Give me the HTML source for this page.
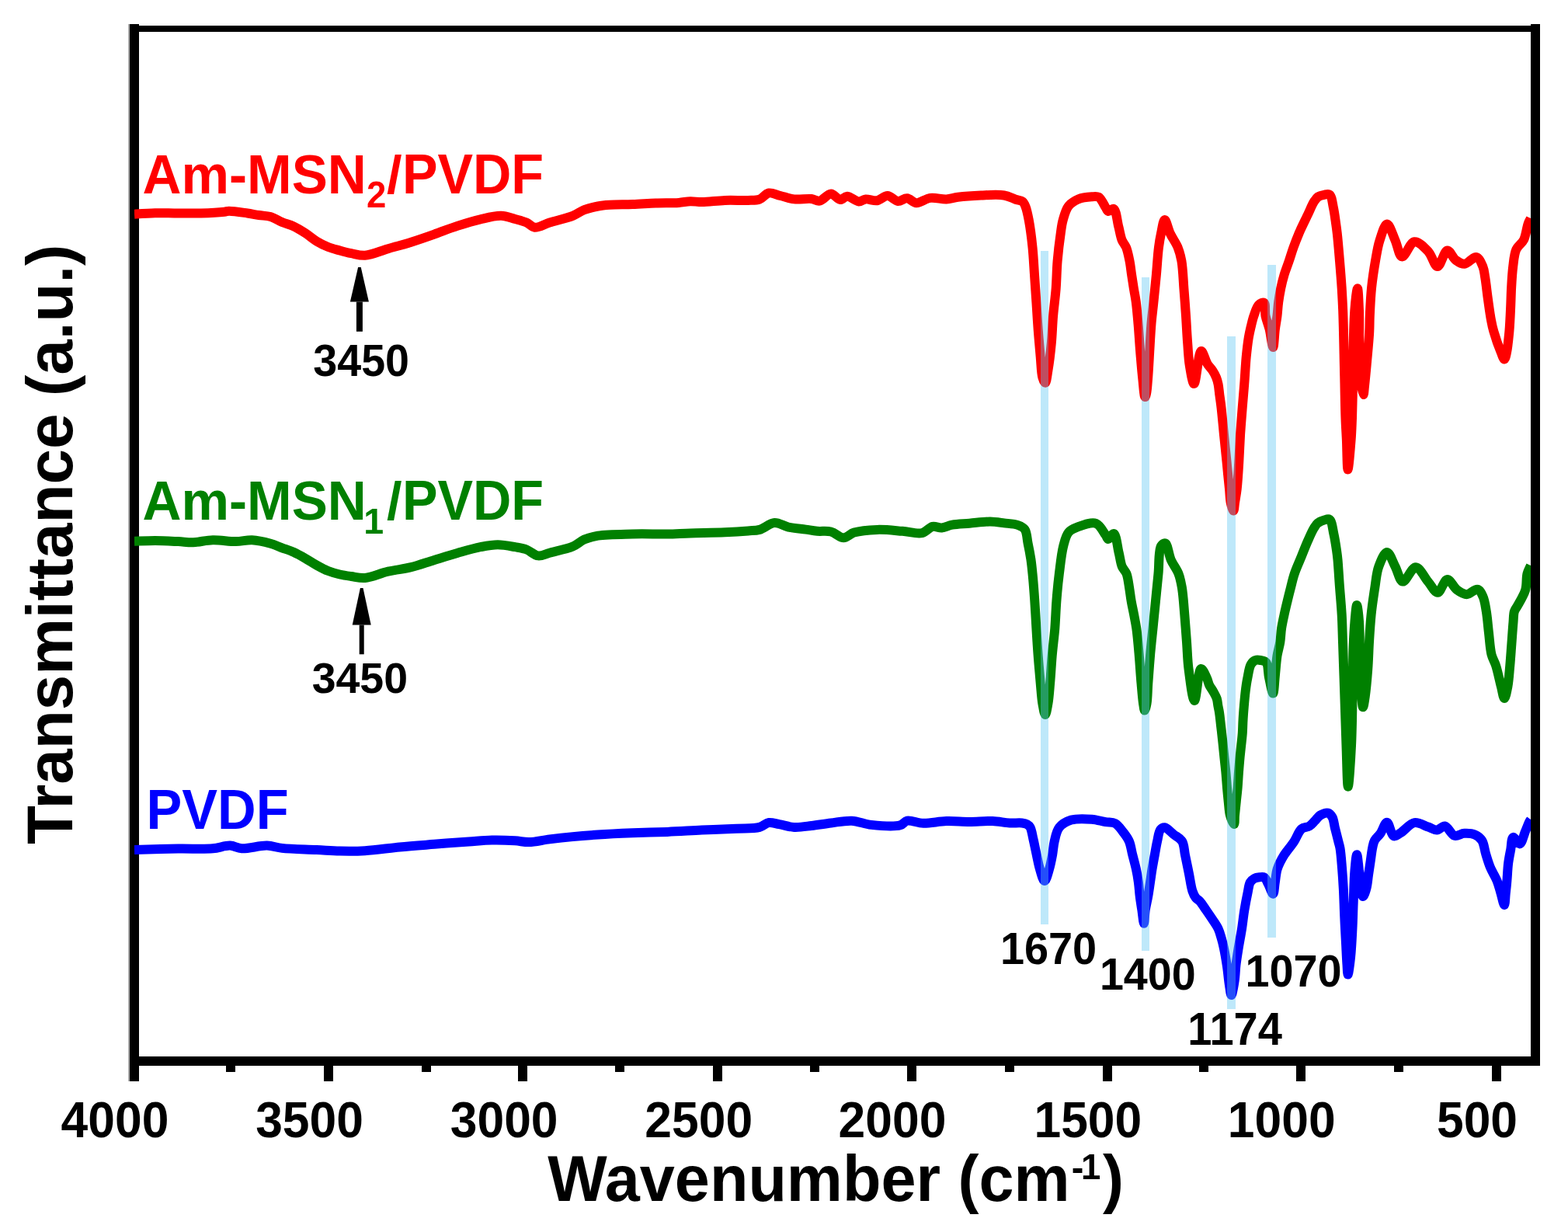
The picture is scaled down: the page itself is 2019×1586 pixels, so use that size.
<!DOCTYPE html>
<html><head><meta charset="utf-8"><title>FTIR spectra</title>
<style>html,body{margin:0;padding:0;background:#fff;}svg{display:block;}
text{font-family:"Liberation Sans",Arial,sans-serif;font-weight:bold;}</style></head>
<body><svg width="2019" height="1586" viewBox="0 0 2019 1586">
<defs><clipPath id="pc"><rect x="173" y="0" width="1798" height="1586"/></clipPath></defs>
<rect width="2019" height="1586" fill="#fff"/>
<rect x="165" y="31" width="2" height="1361" fill="#aaa"/>
<rect x="167" y="31" width="12" height="1361" fill="#000"/>
<rect x="167" y="33" width="1816" height="8" fill="#000"/>
<rect x="1971" y="31" width="12" height="1341" fill="#000"/>
<rect x="167" y="1360" width="1816" height="12" fill="#000"/>
<rect x="417" y="1372" width="12" height="20" fill="#000"/>
<rect x="667" y="1372" width="12" height="20" fill="#000"/>
<rect x="918" y="1372" width="12" height="20" fill="#000"/>
<rect x="1168" y="1372" width="12" height="20" fill="#000"/>
<rect x="1420" y="1372" width="12" height="20" fill="#000"/>
<rect x="1669" y="1372" width="12" height="20" fill="#000"/>
<rect x="1921" y="1372" width="12" height="20" fill="#000"/>
<rect x="291" y="1372" width="12" height="8" fill="#000"/>
<rect x="543" y="1372" width="12" height="8" fill="#000"/>
<rect x="792" y="1372" width="12" height="8" fill="#000"/>
<rect x="1043" y="1372" width="12" height="8" fill="#000"/>
<rect x="1294" y="1372" width="12" height="8" fill="#000"/>
<rect x="1544" y="1372" width="12" height="8" fill="#000"/>
<rect x="1795" y="1372" width="12" height="8" fill="#000"/>
<path d="M173.0,275.7 C177.4,275.4 190.6,274.4 199.7,274.2 C209.3,274.0 219.5,274.5 229.4,274.5 C239.3,274.5 249.1,274.8 259.0,274.5 C268.9,274.2 282.8,273.4 288.9,272.7 C291.6,272.4 292.2,271.8 294.8,271.7 C300.1,271.6 311.6,273.5 318.6,274.5 C324.1,275.3 328.5,276.3 333.4,277.0 C338.4,277.8 343.4,277.6 348.3,279.0 C353.4,280.5 358.2,283.9 363.2,286.0 C368.1,288.0 373.2,289.0 378.0,291.3 C383.1,293.7 388.1,296.8 393.0,300.0 C398.0,303.2 402.7,307.6 407.7,310.6 C412.5,313.5 417.5,316.0 422.6,318.0 C427.5,319.9 432.5,321.1 437.5,322.5 C442.4,323.9 447.1,325.2 452.3,326.2 C457.9,327.3 463.4,329.2 470.0,328.8 C478.7,328.2 489.8,323.1 499.7,320.2 C509.6,317.4 519.5,314.8 529.4,311.7 C539.4,308.6 549.3,305.1 559.2,301.6 C569.1,298.1 578.9,294.1 588.9,290.9 C598.7,287.7 608.9,284.5 618.6,282.3 C627.7,280.2 637.3,277.5 645.3,277.8 C651.9,278.0 657.5,280.5 663.2,282.0 C668.4,283.4 673.6,284.6 678.0,286.5 C681.9,288.2 684.3,292.2 688.4,292.7 C693.7,293.3 700.6,288.7 707.7,286.5 C716.5,283.8 729.4,281.0 737.5,277.8 C743.4,275.4 747.0,272.1 752.3,270.1 C757.8,268.0 764.3,266.6 770.0,265.5 C775.1,264.5 779.1,264.2 784.9,263.8 C793.1,263.2 804.7,263.5 814.6,263.1 C824.5,262.7 834.4,262.0 844.3,261.6 C854.2,261.2 865.8,261.5 874.0,260.9 C879.8,260.5 883.9,259.3 888.9,259.2 C893.8,259.1 897.9,260.1 903.7,260.1 C911.9,260.0 923.5,258.3 933.4,257.9 C943.3,257.5 955.0,258.2 963.2,257.9 C969.0,257.7 973.5,258.3 978.0,256.7 C982.4,255.1 985.5,249.3 989.9,248.5 C994.4,247.6 999.6,250.8 1004.8,252.0 C1010.5,253.4 1016.3,255.7 1022.6,256.4 C1029.6,257.2 1038.9,255.3 1044.9,256.0 C1049.1,256.5 1051.7,259.2 1055.3,258.6 C1059.9,257.9 1065.4,249.5 1070.0,249.5 C1074.2,249.5 1078.2,256.9 1081.9,257.1 C1085.0,257.3 1087.4,252.8 1090.8,252.7 C1095.1,252.6 1101.3,259.2 1105.7,259.4 C1109.0,259.6 1111.2,256.7 1114.6,256.4 C1118.9,256.0 1124.7,258.9 1129.4,258.2 C1134.1,257.5 1138.4,251.9 1142.8,252.0 C1147.3,252.1 1151.8,258.5 1156.2,258.9 C1160.2,259.2 1164.1,254.9 1168.0,255.2 C1172.0,255.5 1175.5,260.9 1180.0,261.2 C1185.3,261.5 1191.5,255.7 1197.8,254.9 C1204.4,254.0 1212.3,256.7 1218.6,256.4 C1224.0,256.1 1227.6,254.4 1233.4,253.7 C1241.6,252.7 1253.3,251.9 1263.2,251.5 C1273.1,251.1 1284.8,250.1 1292.9,251.5 C1298.8,252.5 1303.4,255.3 1307.7,256.7 C1311.1,257.8 1314.5,257.8 1316.7,259.5 C1318.6,261.0 1319.4,263.2 1320.5,266.0 C1322.2,270.2 1323.4,276.3 1324.7,283.0 C1326.5,292.6 1328.3,306.5 1329.5,318.3 C1330.7,330.0 1331.2,341.8 1332.0,353.6 C1332.8,365.4 1333.6,377.1 1334.4,388.9 C1335.2,400.7 1335.8,412.4 1336.7,424.2 C1337.6,436.0 1338.7,448.6 1339.7,459.5 C1340.6,469.0 1340.7,480.2 1342.4,486.0 C1343.3,489.1 1344.9,492.9 1345.9,492.8 C1347.4,492.6 1348.3,483.3 1349.4,477.0 C1351.0,467.6 1352.7,453.6 1353.8,441.8 C1354.9,430.1 1355.1,418.3 1356.1,406.5 C1357.1,394.7 1358.8,383.0 1359.7,371.2 C1360.6,359.4 1360.6,347.7 1361.6,335.9 C1362.6,324.1 1364.3,310.3 1365.7,300.6 C1366.7,293.7 1367.1,288.8 1368.8,283.0 C1370.5,277.0 1372.3,269.8 1375.9,265.3 C1379.1,261.3 1383.6,258.5 1388.3,256.5 C1393.4,254.3 1401.0,253.6 1405.9,253.3 C1409.3,253.1 1412.1,252.3 1414.7,253.8 C1418.2,255.8 1421.3,263.6 1423.6,267.0 C1425.0,269.1 1425.4,271.6 1427.0,272.0 C1428.8,272.5 1432.1,267.9 1434.0,268.8 C1437.4,270.4 1438.4,284.6 1440.3,291.8 C1442.0,298.1 1442.8,304.6 1444.8,309.4 C1446.3,313.0 1448.5,314.7 1450.0,318.3 C1452.0,323.1 1453.3,330.0 1454.5,335.9 C1455.7,341.8 1456.2,347.7 1457.1,353.6 C1458.0,359.5 1458.9,365.3 1459.8,371.2 C1460.8,377.1 1461.9,382.3 1462.8,388.9 C1463.9,397.3 1464.7,407.6 1465.6,417.7 C1466.6,428.9 1467.2,441.2 1468.2,453.0 C1469.2,464.8 1470.2,477.8 1471.4,488.3 C1472.3,496.7 1473.2,510.9 1474.4,511.0 C1475.0,511.1 1475.7,508.2 1476.2,506.0 C1477.1,501.9 1477.4,495.2 1478.0,488.3 C1478.8,478.6 1479.5,464.8 1480.2,453.0 C1480.9,441.2 1481.5,428.9 1482.4,417.7 C1483.2,407.6 1484.4,399.0 1485.4,388.9 C1486.5,377.7 1487.8,365.4 1488.9,353.6 C1490.0,341.8 1490.7,328.0 1492.0,318.3 C1492.9,311.4 1493.7,306.5 1495.0,300.6 C1496.3,294.7 1497.8,283.1 1499.7,283.0 C1501.7,282.9 1504.1,294.8 1506.8,300.6 C1509.6,306.6 1514.0,312.3 1516.5,318.3 C1518.8,324.0 1520.1,329.0 1521.4,335.9 C1523.1,345.6 1523.5,359.4 1524.4,371.2 C1525.3,383.0 1526.2,394.7 1527.0,406.5 C1527.8,418.3 1528.3,430.6 1529.2,441.8 C1530.0,451.9 1530.3,461.6 1531.8,470.6 C1533.2,478.9 1535.4,494.0 1537.5,494.0 C1540.3,494.0 1543.0,452.4 1546.7,452.0 C1549.1,451.7 1551.8,463.8 1554.6,468.3 C1556.8,471.8 1559.5,474.1 1561.4,477.1 C1563.3,480.0 1564.9,483.0 1566.1,486.0 C1567.3,488.9 1567.9,491.5 1568.6,494.8 C1569.4,498.7 1569.7,503.4 1570.3,508.0 C1571.0,513.0 1571.8,518.2 1572.4,523.6 C1573.1,529.3 1573.6,535.3 1574.2,541.2 C1574.8,547.1 1575.3,553.0 1575.9,558.9 C1576.5,564.8 1577.1,570.6 1577.7,576.5 C1578.3,582.4 1578.9,588.3 1579.5,594.2 C1580.1,600.1 1580.6,605.9 1581.2,611.8 C1581.8,617.7 1582.4,623.6 1583.0,629.5 C1583.6,635.4 1583.6,642.1 1584.7,647.1 C1585.6,651.1 1587.4,657.6 1588.3,657.5 C1589.2,657.4 1589.4,651.0 1590.0,647.1 C1590.8,642.0 1591.9,636.4 1592.7,629.5 C1593.8,619.8 1594.6,606.0 1595.3,594.2 C1596.0,582.4 1596.4,570.7 1597.1,558.9 C1597.9,547.1 1598.9,534.8 1599.8,523.6 C1600.6,513.5 1601.4,504.9 1602.2,494.8 C1603.1,483.6 1603.7,470.2 1604.7,459.5 C1605.6,450.6 1606.6,441.9 1607.7,435.0 C1608.6,429.8 1609.4,426.1 1610.5,421.5 C1611.7,416.6 1612.8,411.3 1614.5,406.5 C1616.2,401.7 1617.9,395.2 1620.7,392.5 C1622.7,390.6 1626.1,388.8 1627.7,389.8 C1630.0,391.2 1628.4,400.9 1629.5,406.5 C1630.7,412.4 1633.2,417.9 1634.7,424.2 C1636.4,431.3 1638.0,447.0 1639.2,447.0 C1640.4,447.0 1640.9,431.3 1641.8,424.2 C1642.6,417.9 1643.8,412.4 1644.5,406.5 C1645.2,400.6 1645.4,394.8 1646.2,388.9 C1647.0,383.0 1648.0,377.1 1649.2,371.2 C1650.4,365.3 1651.9,359.4 1653.6,353.6 C1655.4,347.7 1657.8,341.8 1659.8,335.9 C1661.8,330.0 1663.5,324.1 1665.6,318.3 C1667.7,312.4 1670.9,304.4 1672.5,300.6 C1673.3,298.7 1673.4,298.4 1674.3,296.5 C1676.2,292.3 1681.0,282.5 1684.1,276.0 C1686.9,270.2 1689.4,263.6 1692.0,259.6 C1693.7,256.9 1694.9,255.0 1697.0,253.5 C1699.2,252.0 1702.4,251.3 1705.0,250.8 C1707.4,250.4 1710.2,249.2 1712.0,250.5 C1714.9,252.6 1715.7,261.7 1717.0,267.8 C1718.4,274.3 1719.3,282.3 1720.2,288.3 C1720.9,292.9 1721.2,295.4 1721.8,300.6 C1722.8,309.3 1724.0,324.1 1725.0,335.9 C1726.0,347.7 1727.0,360.0 1727.7,371.2 C1728.3,381.3 1728.7,387.9 1729.2,400.0 C1730.0,420.5 1730.6,458.3 1731.2,483.2 C1731.7,503.6 1731.9,523.4 1732.5,538.7 C1732.9,549.5 1733.4,556.4 1733.9,566.4 C1734.4,578.1 1734.6,604.5 1735.5,604.5 C1736.5,604.5 1738.7,578.1 1739.6,566.4 C1740.4,556.4 1740.6,547.9 1741.0,538.7 C1741.3,529.5 1741.5,520.3 1741.7,511.0 C1741.9,501.7 1741.8,494.8 1742.0,483.0 C1742.4,462.7 1742.7,420.5 1744.3,400.0 C1745.2,387.9 1747.0,371.2 1748.0,371.2 C1748.9,371.2 1749.5,387.9 1750.0,400.0 C1750.8,420.5 1749.1,463.4 1751.0,483.0 C1752.0,493.8 1754.4,508.0 1755.5,508.0 C1756.2,508.0 1756.5,501.5 1757.0,497.0 C1757.8,489.9 1758.8,479.5 1759.7,469.3 C1760.8,456.8 1762.6,439.3 1763.2,427.7 C1763.7,419.5 1763.4,414.5 1763.8,406.5 C1764.3,396.2 1764.8,382.9 1766.0,371.2 C1767.2,359.4 1769.1,346.8 1771.0,335.9 C1772.7,326.4 1773.9,317.6 1776.6,309.4 C1779.1,301.9 1782.7,288.6 1786.0,288.5 C1789.3,288.4 1793.3,302.4 1796.5,309.4 C1799.7,316.3 1801.3,329.8 1805.3,330.4 C1809.5,331.0 1815.4,312.0 1821.2,311.2 C1826.6,310.5 1834.0,318.4 1838.9,323.6 C1844.0,328.9 1846.9,343.0 1851.0,343.0 C1855.2,343.0 1859.3,322.9 1863.6,322.5 C1867.2,322.2 1870.6,332.1 1874.7,335.0 C1878.1,337.5 1881.9,340.0 1885.8,339.8 C1890.5,339.5 1897.0,330.1 1901.0,331.0 C1904.7,331.8 1907.5,338.9 1909.4,343.3 C1911.2,347.6 1911.3,351.7 1912.2,357.1 C1913.5,364.7 1914.6,375.6 1915.9,384.9 C1917.2,394.1 1918.6,405.0 1920.1,412.6 C1921.1,418.0 1921.7,421.1 1923.3,426.5 C1925.5,434.2 1930.3,447.8 1933.0,454.3 C1934.5,457.9 1935.9,462.6 1937.1,462.5 C1938.2,462.4 1939.1,457.9 1939.9,454.3 C1941.4,447.8 1942.5,435.8 1943.4,426.5 C1944.2,417.3 1944.6,408.0 1945.0,398.8 C1945.5,389.5 1945.6,380.3 1946.1,371.0 C1946.6,361.8 1947.1,352.0 1948.2,343.3 C1949.2,335.4 1949.6,327.1 1952.4,321.0 C1954.7,315.9 1959.6,313.6 1962.1,308.6 C1965.0,302.8 1965.8,292.8 1967.7,287.8 C1968.8,284.8 1970.5,282.1 1971.0,281.0" fill="none" stroke="#ff0000" stroke-width="12" stroke-linejoin="round" stroke-linecap="butt" clip-path="url(#pc)"/>
<path d="M173.0,696.7 C177.4,696.6 190.6,696.0 199.7,696.0 C209.3,696.1 220.6,696.7 229.4,697.1 C236.6,697.4 241.9,698.4 248.8,698.2 C256.7,698.0 265.2,695.4 274.0,695.2 C283.5,694.9 294.7,697.2 303.7,697.1 C311.3,697.0 317.4,694.9 324.5,695.2 C332.2,695.6 341.4,697.8 348.3,699.7 C353.9,701.3 358.2,703.4 363.2,705.3 C368.1,707.1 373.1,708.6 378.0,710.8 C383.0,713.1 388.0,715.9 392.9,718.7 C397.9,721.5 402.7,724.9 407.7,727.6 C412.6,730.3 417.5,733.0 422.6,735.0 C427.5,736.9 432.5,738.3 437.5,739.5 C442.4,740.7 447.1,741.3 452.3,742.0 C457.9,742.8 463.4,744.5 470.0,744.0 C478.7,743.3 489.7,738.0 499.7,735.7 C509.5,733.4 519.6,732.6 529.4,730.2 C539.4,727.7 549.3,723.9 559.2,720.9 C569.1,717.9 579.0,714.8 588.9,712.0 C598.8,709.2 609.4,706.0 618.6,704.2 C626.5,702.7 633.5,701.3 640.9,701.3 C648.3,701.3 656.5,703.0 663.2,704.2 C668.7,705.2 673.2,705.7 678.0,707.5 C683.1,709.4 687.8,714.8 692.9,715.4 C697.7,716.0 701.9,713.2 707.7,711.7 C715.9,709.5 729.5,706.9 737.5,703.5 C743.5,700.9 747.0,696.9 752.3,694.6 C757.8,692.2 762.7,690.9 770.0,689.7 C781.4,687.9 799.7,687.9 814.6,687.5 C829.5,687.1 845.8,687.7 859.2,687.5 C870.1,687.3 878.0,686.7 888.9,686.4 C902.2,686.0 920.1,685.9 933.4,685.3 C944.3,684.8 955.0,684.1 963.2,683.4 C969.0,682.9 972.9,683.3 978.0,681.9 C984.1,680.2 990.9,673.4 997.3,673.0 C1003.3,672.6 1008.8,677.2 1015.2,678.6 C1022.2,680.1 1030.8,680.7 1037.5,681.6 C1042.9,682.4 1047.1,683.3 1052.3,683.8 C1057.9,684.3 1064.4,683.1 1070.0,684.5 C1075.7,685.9 1081.1,692.3 1086.3,692.3 C1091.0,692.3 1094.2,687.3 1099.7,685.6 C1107.5,683.2 1119.2,682.2 1129.4,681.9 C1140.0,681.5 1151.9,683.0 1162.1,683.8 C1171.1,684.5 1180.5,687.7 1187.4,686.1 C1192.8,684.8 1196.3,678.9 1200.8,677.9 C1204.7,677.1 1208.6,679.7 1212.6,679.4 C1217.0,679.1 1220.9,676.6 1226.0,675.7 C1232.4,674.5 1240.5,674.4 1248.3,673.7 C1256.8,673.0 1267.0,671.4 1275.0,671.5 C1281.6,671.6 1286.9,672.6 1292.9,673.4 C1298.8,674.1 1305.9,674.2 1310.7,676.0 C1314.3,677.3 1317.5,678.6 1319.6,681.6 C1322.4,685.6 1322.3,693.2 1323.6,699.4 C1325.0,706.0 1326.4,713.3 1327.4,720.0 C1328.3,726.3 1328.8,731.2 1329.5,738.3 C1330.5,748.1 1331.5,761.8 1332.3,773.6 C1333.1,785.4 1333.7,797.1 1334.4,808.9 C1335.1,820.7 1335.8,832.4 1336.7,844.2 C1337.6,856.0 1338.7,868.6 1339.7,879.5 C1340.6,889.0 1341.1,898.6 1342.4,906.0 C1343.4,911.4 1344.7,920.0 1345.9,920.0 C1347.1,920.0 1348.4,911.4 1349.4,906.0 C1350.7,898.6 1351.3,889.0 1352.1,879.5 C1353.1,868.6 1353.7,856.0 1354.7,844.2 C1355.7,832.4 1357.3,820.7 1358.3,808.9 C1359.2,797.1 1359.5,785.4 1360.4,773.6 C1361.3,761.8 1362.4,750.0 1363.9,738.3 C1365.4,726.5 1366.7,712.6 1369.2,703.0 C1371.0,696.0 1372.3,689.5 1375.9,685.3 C1379.0,681.7 1383.4,680.0 1388.3,678.2 C1394.6,675.9 1405.2,671.6 1411.2,673.8 C1416.7,675.8 1420.8,685.0 1423.6,688.8 C1425.2,690.9 1425.5,693.8 1427.0,694.0 C1428.9,694.2 1432.2,686.4 1434.2,687.0 C1437.4,687.9 1438.8,704.2 1440.7,711.8 C1442.3,718.2 1442.8,724.7 1444.8,729.4 C1446.3,733.0 1448.9,734.7 1450.4,738.3 C1452.3,743.0 1453.0,750.0 1454.0,755.9 C1455.0,761.8 1455.6,767.7 1456.6,773.6 C1457.6,779.5 1459.0,785.3 1460.1,791.2 C1461.2,797.1 1462.3,802.0 1463.3,808.9 C1464.7,818.6 1465.8,832.4 1466.8,844.2 C1467.8,856.0 1468.5,868.6 1469.5,879.5 C1470.3,889.0 1471.1,899.6 1472.1,906.0 C1472.7,909.6 1473.2,914.5 1473.9,914.5 C1474.6,914.5 1475.8,909.7 1476.5,906.0 C1477.7,899.7 1477.6,889.0 1478.3,879.5 C1479.1,868.6 1480.0,856.0 1481.0,844.2 C1482.0,832.4 1483.3,820.7 1484.5,808.9 C1485.7,797.1 1486.8,785.4 1488.0,773.6 C1489.2,761.8 1490.3,750.1 1491.5,738.3 C1492.7,726.5 1491.6,708.5 1495.0,703.0 C1496.5,700.6 1498.9,698.8 1500.6,699.4 C1503.6,700.5 1504.8,714.0 1507.7,720.6 C1510.5,726.9 1515.0,732.3 1517.4,738.3 C1519.6,744.0 1520.6,749.0 1521.8,755.9 C1523.5,765.6 1524.3,779.4 1525.3,791.2 C1526.3,803.0 1527.1,814.7 1528.0,826.5 C1528.9,838.3 1529.0,849.7 1530.6,861.8 C1532.3,874.8 1535.4,902.0 1538.0,902.0 C1540.7,902.0 1542.7,861.7 1546.5,861.0 C1548.7,860.6 1552.2,869.2 1554.0,873.0 C1555.5,876.1 1555.7,878.9 1557.1,881.8 C1558.5,884.8 1560.8,887.6 1562.4,890.6 C1564.0,893.5 1565.8,896.5 1566.8,899.5 C1567.7,902.4 1567.8,905.4 1568.3,908.3 C1568.8,911.2 1569.5,913.6 1570.0,917.1 C1570.8,922.0 1571.4,928.9 1572.1,934.8 C1572.8,940.7 1573.6,947.6 1574.1,952.5 C1574.5,955.9 1574.7,957.8 1575.0,961.2 C1575.5,966.1 1576.2,973.0 1576.8,978.9 C1577.4,984.8 1578.1,990.6 1578.6,996.5 C1579.1,1002.4 1579.5,1008.3 1580.0,1014.2 C1580.5,1020.1 1581.1,1025.9 1581.7,1031.8 C1582.4,1037.7 1582.5,1044.3 1583.9,1049.5 C1585.1,1053.8 1588.0,1061.2 1589.0,1061.0 C1590.0,1060.8 1589.6,1053.7 1590.0,1049.5 C1590.5,1044.2 1591.2,1037.7 1591.8,1031.8 C1592.4,1025.9 1593.1,1020.1 1593.6,1014.2 C1594.1,1008.3 1594.4,1002.4 1594.8,996.5 C1595.2,990.6 1595.7,984.8 1596.2,978.9 C1596.7,973.0 1597.4,967.1 1598.0,961.2 C1598.6,955.3 1599.4,949.5 1599.8,943.6 C1600.2,937.7 1600.2,931.8 1600.6,925.9 C1600.9,920.0 1601.4,914.2 1601.9,908.3 C1602.4,902.4 1602.9,896.5 1603.6,890.6 C1604.3,884.7 1605.1,878.8 1606.3,873.0 C1607.5,867.1 1608.3,859.3 1610.7,855.3 C1612.2,852.7 1614.3,850.8 1616.5,850.0 C1618.5,849.2 1620.8,849.6 1623.0,850.0 C1625.5,850.5 1628.7,850.8 1630.5,853.0 C1633.3,856.4 1632.6,865.6 1634.0,872.0 C1635.5,878.7 1637.9,892.6 1639.2,892.5 C1640.5,892.4 1641.0,878.2 1641.8,870.6 C1642.7,862.2 1643.3,852.1 1644.5,844.2 C1645.5,837.7 1647.4,832.4 1648.3,826.5 C1649.2,820.7 1649.2,814.8 1650.1,808.9 C1651.0,803.0 1652.3,797.1 1653.6,791.2 C1654.9,785.3 1656.3,779.5 1657.7,773.6 C1659.1,767.7 1660.6,761.8 1662.1,755.9 C1663.6,750.0 1664.8,744.4 1666.9,738.3 C1669.2,731.4 1672.8,723.7 1675.7,716.5 C1678.5,709.6 1681.2,702.4 1684.1,696.0 C1686.7,690.2 1689.4,683.7 1692.0,679.6 C1693.7,676.9 1694.9,674.9 1697.0,673.2 C1699.2,671.5 1702.4,670.2 1705.0,669.5 C1707.4,668.8 1710.1,667.5 1712.0,668.7 C1715.1,670.8 1716.0,681.3 1717.5,687.8 C1719.0,694.5 1720.1,702.3 1721.0,708.3 C1721.7,712.9 1722.0,715.4 1722.5,720.6 C1723.3,729.3 1724.1,744.1 1725.0,755.9 C1725.9,767.7 1727.0,779.4 1727.7,791.2 C1728.4,803.0 1728.5,812.6 1729.0,826.5 C1729.7,846.6 1730.7,876.7 1731.5,900.0 C1732.2,921.0 1732.8,940.6 1733.5,960.0 C1734.2,978.2 1734.7,1012.8 1735.8,1012.8 C1736.9,1012.8 1739.1,978.2 1740.0,960.0 C1741.0,940.7 1741.1,920.8 1741.5,900.0 C1742.0,877.6 1742.0,848.5 1742.7,830.0 C1743.2,817.9 1743.7,809.1 1744.5,800.0 C1745.2,792.3 1746.2,778.9 1747.1,778.9 C1748.0,778.9 1749.3,791.1 1750.0,800.0 C1751.2,814.9 1750.6,840.9 1751.5,860.0 C1752.3,877.5 1753.5,910.2 1755.0,910.3 C1755.8,910.4 1756.9,902.6 1757.7,897.1 C1759.0,888.2 1760.3,873.6 1761.2,861.8 C1762.1,850.0 1762.3,838.3 1763.0,826.5 C1763.7,814.7 1764.4,802.9 1765.6,791.2 C1766.8,779.4 1768.7,766.8 1770.4,755.9 C1771.9,746.4 1772.4,737.2 1775.3,729.4 C1777.9,722.4 1782.4,710.9 1785.9,710.9 C1789.4,710.9 1793.1,723.1 1796.5,729.4 C1799.9,735.7 1802.0,748.0 1806.2,748.6 C1810.7,749.2 1817.5,730.2 1823.0,730.3 C1828.4,730.4 1833.9,743.2 1838.9,748.9 C1843.2,753.9 1847.2,763.0 1851.2,762.8 C1855.4,762.6 1859.3,746.2 1863.6,746.0 C1867.6,745.8 1871.6,756.1 1876.1,759.4 C1880.0,762.2 1884.3,765.2 1888.6,765.2 C1893.1,765.2 1898.8,757.8 1902.4,758.7 C1905.5,759.4 1907.6,763.9 1909.4,767.7 C1911.8,772.7 1912.6,780.0 1913.8,787.1 C1915.2,795.5 1915.9,805.6 1917.0,814.9 C1918.1,824.1 1918.6,835.0 1920.5,842.6 C1921.9,848.1 1924.2,851.0 1926.0,856.5 C1928.5,864.1 1930.9,876.5 1933.0,884.3 C1934.5,890.0 1935.7,899.0 1937.1,899.0 C1938.5,899.0 1940.2,890.0 1941.3,884.3 C1942.8,876.6 1943.4,865.8 1944.3,856.5 C1945.1,847.3 1945.7,838.0 1946.4,828.8 C1947.1,819.5 1947.8,808.7 1948.5,801.0 C1949.0,795.6 1948.7,790.8 1949.9,787.1 C1950.8,784.3 1952.2,783.1 1953.8,780.2 C1956.5,775.2 1962.1,766.5 1964.2,759.4 C1966.2,752.6 1965.0,744.3 1966.5,738.6 C1967.6,734.4 1970.2,729.8 1971.0,728.0" fill="none" stroke="#008000" stroke-width="12" stroke-linejoin="round" stroke-linecap="butt" clip-path="url(#pc)"/>
<path d="M173.0,1094.1 C182.4,1093.8 211.7,1092.9 229.4,1092.6 C245.1,1092.3 261.7,1093.4 274.0,1092.3 C282.7,1091.5 289.6,1088.3 296.3,1088.6 C301.8,1088.8 305.2,1091.9 311.2,1092.3 C319.9,1092.9 334.4,1088.3 343.8,1088.6 C351.1,1088.8 355.4,1091.0 363.2,1091.9 C375.0,1093.2 394.3,1093.4 407.7,1094.1 C418.6,1094.6 427.3,1095.4 437.5,1095.6 C448.1,1095.8 458.3,1095.9 470.0,1095.2 C483.7,1094.4 499.7,1091.9 514.6,1090.5 C529.5,1089.1 544.3,1088.0 559.2,1086.8 C574.0,1085.6 590.4,1084.3 603.7,1083.4 C614.6,1082.7 623.5,1081.8 633.4,1081.6 C643.3,1081.4 654.5,1081.8 663.2,1082.3 C669.9,1082.7 674.5,1084.2 681.0,1084.1 C689.0,1084.0 698.5,1081.5 707.7,1080.4 C717.4,1079.2 727.3,1078.1 737.5,1077.1 C748.1,1076.1 758.3,1075.3 770.0,1074.5 C783.7,1073.6 799.7,1072.9 814.6,1072.3 C829.5,1071.7 844.3,1071.5 859.2,1070.9 C874.0,1070.3 888.9,1069.3 903.7,1068.6 C918.6,1067.9 934.9,1067.4 948.3,1066.7 C959.2,1066.1 970.5,1066.9 978.0,1064.9 C983.0,1063.6 985.7,1059.6 989.9,1059.0 C994.1,1058.4 998.4,1060.3 1003.3,1061.2 C1009.2,1062.2 1015.9,1064.6 1022.6,1064.9 C1029.7,1065.3 1037.3,1063.9 1044.9,1063.0 C1053.0,1062.1 1061.5,1060.5 1070.0,1059.5 C1078.8,1058.4 1088.0,1056.3 1096.7,1056.7 C1105.3,1057.1 1112.7,1060.9 1122.0,1061.9 C1133.2,1063.1 1151.3,1064.6 1159.2,1062.3 C1163.4,1061.1 1164.3,1057.5 1168.0,1056.7 C1173.3,1055.6 1181.3,1059.5 1188.9,1059.7 C1197.9,1059.9 1208.7,1057.4 1218.6,1057.1 C1228.5,1056.8 1238.4,1057.9 1248.3,1057.9 C1258.2,1057.9 1268.9,1056.7 1278.0,1057.1 C1285.9,1057.4 1293.2,1059.1 1300.0,1059.5 C1305.7,1059.8 1311.9,1059.0 1316.0,1059.5 C1318.7,1059.8 1320.8,1060.2 1322.6,1061.2 C1324.2,1062.1 1325.4,1063.1 1326.5,1065.0 C1328.4,1068.2 1329.1,1074.6 1330.4,1080.0 C1331.9,1086.3 1333.3,1094.0 1334.8,1100.6 C1336.1,1106.7 1337.1,1112.6 1338.8,1118.3 C1340.5,1123.8 1342.9,1134.0 1345.0,1134.0 C1347.1,1134.0 1349.5,1123.8 1351.2,1118.3 C1352.9,1112.6 1354.0,1106.5 1355.1,1100.6 C1356.2,1094.7 1356.3,1088.8 1357.7,1083.0 C1359.2,1077.0 1360.2,1069.9 1363.9,1065.3 C1367.5,1060.8 1373.2,1057.5 1379.4,1055.6 C1386.8,1053.3 1398.0,1054.1 1405.9,1054.7 C1412.4,1055.2 1418.2,1057.3 1423.6,1058.2 C1428.1,1059.0 1432.2,1058.1 1435.9,1060.0 C1440.0,1062.2 1443.4,1067.5 1446.5,1071.5 C1449.4,1075.2 1452.0,1078.6 1453.9,1083.0 C1456.1,1088.1 1456.8,1094.7 1458.3,1100.6 C1459.8,1106.5 1461.5,1112.4 1462.8,1118.3 C1464.1,1124.2 1465.1,1130.0 1465.9,1135.9 C1466.7,1141.8 1467.0,1147.7 1467.7,1153.6 C1468.4,1159.5 1469.4,1165.3 1470.3,1171.2 C1471.2,1177.0 1472.2,1188.7 1473.0,1188.7 C1473.7,1188.7 1473.9,1177.0 1474.8,1171.2 C1475.7,1165.3 1477.3,1159.5 1478.3,1153.6 C1479.3,1147.7 1480.1,1141.8 1481.0,1135.9 C1481.9,1130.0 1482.6,1124.2 1483.6,1118.3 C1484.6,1112.4 1485.7,1106.5 1486.8,1100.6 C1487.9,1094.7 1488.8,1088.6 1490.1,1083.0 C1491.3,1077.8 1491.9,1070.8 1494.2,1068.0 C1495.7,1066.2 1497.6,1065.1 1499.7,1065.3 C1502.9,1065.6 1507.4,1071.1 1511.2,1074.1 C1514.9,1077.0 1519.6,1079.0 1522.1,1083.0 C1524.9,1087.5 1524.7,1094.3 1526.0,1100.6 C1527.5,1107.8 1529.2,1116.2 1530.8,1124.0 C1532.4,1131.7 1533.5,1141.3 1535.4,1147.0 C1536.6,1150.6 1537.8,1153.2 1539.5,1155.5 C1541.0,1157.4 1542.9,1158.0 1544.7,1160.0 C1547.4,1162.9 1550.4,1167.9 1553.2,1171.9 C1556.0,1175.9 1558.7,1179.8 1561.3,1183.8 C1563.9,1187.8 1566.8,1191.7 1568.7,1195.8 C1570.5,1199.7 1571.5,1203.8 1572.7,1207.8 C1573.9,1211.8 1574.7,1215.1 1575.7,1219.8 C1577.1,1226.4 1578.7,1235.7 1579.9,1243.7 C1581.1,1251.7 1581.8,1260.9 1582.9,1267.7 C1583.7,1272.8 1584.5,1281.0 1585.5,1281.0 C1586.7,1281.0 1588.7,1268.5 1589.7,1262.0 C1590.7,1255.4 1590.7,1248.7 1591.5,1241.8 C1592.4,1234.6 1593.6,1227.3 1594.8,1219.8 C1596.1,1212.0 1597.7,1203.8 1599.0,1195.8 C1600.2,1187.8 1601.0,1179.9 1602.3,1171.9 C1603.6,1163.9 1605.4,1154.5 1606.8,1147.9 C1607.8,1143.2 1608.1,1138.8 1609.8,1135.9 C1611.1,1133.7 1613.0,1132.1 1615.0,1131.0 C1617.0,1129.9 1619.6,1129.5 1621.8,1129.3 C1623.8,1129.1 1626.1,1128.5 1627.8,1129.5 C1630.0,1130.8 1631.3,1134.8 1633.0,1138.0 C1635.1,1141.8 1637.7,1150.9 1639.2,1150.7 C1640.7,1150.5 1640.9,1141.0 1641.8,1135.9 C1642.8,1130.3 1642.9,1124.0 1644.8,1118.3 C1646.8,1112.3 1651.3,1104.2 1653.5,1100.6 C1654.6,1098.8 1655.0,1098.5 1656.2,1096.9 C1658.5,1093.8 1663.0,1088.3 1666.2,1083.5 C1669.6,1078.4 1672.0,1070.2 1676.0,1067.0 C1678.9,1064.6 1683.1,1065.3 1686.0,1063.5 C1688.8,1061.8 1690.7,1059.0 1693.0,1056.7 C1695.4,1054.4 1697.2,1051.2 1700.0,1049.5 C1702.9,1047.8 1707.3,1045.9 1710.0,1046.6 C1712.3,1047.2 1714.1,1049.5 1715.5,1052.0 C1717.4,1055.3 1717.7,1060.8 1718.9,1065.7 C1720.3,1071.2 1722.2,1078.6 1723.4,1083.5 C1724.2,1086.8 1724.9,1088.4 1725.5,1092.0 C1726.6,1098.1 1727.3,1108.6 1728.0,1117.1 C1728.7,1125.8 1729.3,1134.1 1729.8,1143.6 C1730.4,1154.5 1730.7,1167.1 1731.2,1178.9 C1731.7,1190.7 1732.4,1203.3 1733.0,1214.2 C1733.5,1223.7 1733.9,1233.3 1734.4,1240.7 C1734.8,1246.1 1735.0,1254.6 1735.6,1254.6 C1736.4,1254.6 1738.2,1240.2 1739.1,1231.8 C1740.2,1221.3 1740.8,1208.3 1741.4,1196.5 C1742.0,1184.7 1742.2,1173.4 1742.7,1161.2 C1743.2,1148.0 1743.5,1131.2 1744.5,1120.0 C1745.2,1112.2 1746.2,1100.3 1747.1,1100.3 C1748.2,1100.3 1749.3,1117.2 1750.6,1125.9 C1751.9,1135.1 1753.0,1153.8 1755.0,1154.0 C1756.3,1154.2 1758.3,1147.6 1759.4,1143.6 C1760.8,1138.6 1761.2,1131.8 1762.1,1125.9 C1763.0,1120.0 1763.8,1114.2 1764.7,1108.3 C1765.6,1102.4 1766.3,1095.4 1767.4,1090.6 C1768.2,1087.1 1768.5,1084.6 1770.0,1081.8 C1771.7,1078.7 1775.0,1076.4 1777.4,1073.0 C1780.3,1068.9 1783.1,1058.7 1785.9,1058.8 C1788.9,1058.9 1791.0,1075.0 1794.7,1076.3 C1797.3,1077.2 1800.2,1074.1 1803.6,1072.1 C1808.6,1069.1 1815.0,1060.3 1821.2,1059.2 C1826.9,1058.2 1833.7,1062.8 1838.9,1064.5 C1843.1,1065.9 1846.6,1068.7 1850.2,1068.5 C1853.7,1068.3 1857.0,1062.9 1860.4,1063.4 C1864.6,1064.1 1868.4,1074.5 1872.9,1075.8 C1876.8,1076.9 1881.1,1073.0 1885.4,1072.8 C1889.8,1072.6 1895.1,1072.8 1899.0,1074.5 C1902.6,1076.0 1905.8,1078.4 1908.1,1081.9 C1911.0,1086.2 1911.4,1093.7 1913.2,1099.5 C1915.0,1105.2 1916.6,1110.9 1918.9,1116.5 C1921.3,1122.3 1925.2,1128.0 1927.4,1133.5 C1929.4,1138.4 1930.5,1143.0 1932.0,1148.0 C1933.7,1153.4 1935.9,1165.1 1937.0,1165.0 C1938.0,1164.9 1938.2,1155.5 1938.7,1150.5 C1939.3,1145.1 1939.9,1139.6 1940.4,1133.5 C1941.0,1126.5 1941.3,1117.8 1942.2,1110.8 C1943.0,1104.7 1944.1,1099.4 1945.2,1093.8 C1946.2,1088.4 1946.1,1078.6 1948.4,1077.9 C1950.3,1077.3 1954.5,1086.8 1956.9,1086.4 C1959.7,1085.9 1961.6,1076.1 1963.7,1071.1 C1965.7,1066.4 1968.0,1060.2 1969.4,1057.5 C1970.0,1056.3 1970.7,1055.4 1971.0,1055.0" fill="none" stroke="#0000ff" stroke-width="12" stroke-linejoin="round" stroke-linecap="butt" clip-path="url(#pc)"/>
<rect x="1340" y="323" width="10" height="867" fill="rgb(92,197,242)" fill-opacity="0.4"/>
<rect x="1470" y="357" width="10" height="867" fill="rgb(92,197,242)" fill-opacity="0.4"/>
<rect x="1580" y="433" width="11" height="866" fill="rgb(92,197,242)" fill-opacity="0.4"/>
<rect x="1632" y="341" width="11" height="866" fill="rgb(92,197,242)" fill-opacity="0.4"/>
<text transform="translate(78.59,1463.67) scale(1,1.0367)" font-size="62.4" fill="#000">4000</text>
<text transform="translate(329.16,1463.67) scale(1,1.0367)" font-size="62.4" fill="#000">3500</text>
<text transform="translate(579.73,1463.67) scale(1,1.0367)" font-size="62.4" fill="#000">3000</text>
<text transform="translate(830.30,1463.67) scale(1,1.0367)" font-size="62.4" fill="#000">2500</text>
<text transform="translate(1079.59,1463.67) scale(1,1.0367)" font-size="62.4" fill="#000">2000</text>
<text transform="translate(1331.44,1463.67) scale(1,1.0367)" font-size="62.4" fill="#000">1500</text>
<text transform="translate(1580.79,1463.67) scale(1,1.0367)" font-size="62.4" fill="#000">1000</text>
<text transform="translate(1849.93,1463.67) scale(1,1.0367)" font-size="62.4" fill="#000">500</text>
<polygon points="461.1,344 464.7,344 474.9,388.5 450.9,388.5" fill="#000"/><rect x="458.9" y="388.5" width="8" height="38.30000000000001" fill="#000"/>
<polygon points="463.9,757 467.5,757 477.7,804.5 453.7,804.5" fill="#000"/><rect x="462.7" y="804.5" width="6" height="37.799999999999955" fill="#000"/>
<text transform="translate(403.32,483.65) scale(1,1.0473)" font-size="55.59" fill="#000">3450</text>
<text transform="translate(401.63,892.07) scale(1,1.0118)" font-size="55.45" fill="#000">3450</text>
<text transform="translate(1287.88,1240.73) scale(1,1.0363)" font-size="55.88" fill="#000">1670</text>
<text transform="translate(1415.89,1274.24) scale(1,1.0246)" font-size="55.69" fill="#000">1400</text>
<text transform="translate(1529.37,1344.90) scale(1,1.0637)" font-size="56.02" fill="#000">1174</text>
<text transform="translate(1603.48,1270.34) scale(1,1.0195)" font-size="55.83" fill="#000">1070</text>
<text transform="translate(183.48,248.70) scale(1,1.0288)" font-size="69.19" fill="#ff0000">Am-MSN</text>
<text transform="translate(472.02,266.90) scale(1,1.0642)" font-size="45.49" fill="#ff0000">2</text>
<text transform="translate(497.91,249.13) scale(1,0.9720)" font-size="70.46" fill="#ff0000">/</text>
<text transform="translate(517.93,249.00) scale(1,1.0640)" font-size="68.31" fill="#ff0000">PVDF</text>
<text transform="translate(183.48,668.70) scale(1,1.0288)" font-size="69.19" fill="#008000">Am-MSN</text>
<text transform="translate(468.25,686.80) scale(1,1.0000)" font-size="46.50" fill="#008000">1</text>
<text transform="translate(497.91,669.13) scale(1,0.9720)" font-size="70.46" fill="#008000">/</text>
<text transform="translate(517.93,669.00) scale(1,1.0640)" font-size="68.31" fill="#008000">PVDF</text>
<text transform="translate(188.51,1066.50) scale(1,1.0628)" font-size="68.66" fill="#0000ff">PVDF</text>
<text transform="translate(705.22,1546.47) scale(1,1.0246)" font-size="81.04" fill="#000">Wavenumber (cm</text>
<text transform="translate(1379.87,1520.36) scale(1,1.0745)" font-size="46.87" fill="#000">-</text>
<text transform="translate(1392.05,1518.00) scale(1,1.0000)" font-size="45.50" fill="#000">1</text>
<text transform="translate(1419.99,1546.47) scale(1,1.0246)" font-size="81.04" fill="#000">)</text>
<text transform="translate(93.00,1086.92) rotate(-90) scale(1,1.0221)" font-size="81.77" fill="#000">Transmittance (a.u.)</text>
</svg></body></html>
